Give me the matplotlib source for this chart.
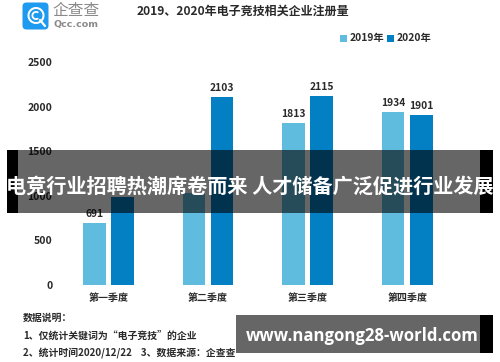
import matplotlib
matplotlib.use("Agg")
import matplotlib.pyplot as plt
from matplotlib.patches import Rectangle, FancyBboxPatch, Wedge

plt.rcParams['font.family'] = ['Noto Sans CJK SC', 'DejaVu Sans']

W, H = 500, 362
quarters = ['第一季度', '第二季度', '第三季度', '第四季度']
values_2019 = [691, 1035, 1813, 1934]
values_2020 = [983, 2103, 2115, 1901]
labels_2019 = ['691', '', '1813', '1934']
labels_2020 = ['', '2103', '2115', '1901']
y_ticks = [0, 500, 1000, 1500, 2000, 2500]
series_names = ['2019年', '2020年']
title = '2019、2020年电子竞技相关企业注册量'
notes = ['数据说明\uff1a', '1、仅统计关键词为“电子竞技”的企业', '2、统计时间2020/12/22    3、数据来源\uff1a企查查']
banner = '电竞行业招聘热潮席卷而来 人才储备广泛促进行业发展'
url = 'www.nangong28-world.com'

C19, C20 = '#5fbcdf', '#0380c3'
TXT = '#2a2a2a'

fig = plt.figure(figsize=(W / 100, H / 100), dpi=100)

# chart axes, placed in pixels: x from 58.7 to 457, y from 285 (value 0) to 62 (value 2500)
ax = fig.add_axes([58.7 / W, 1 - 285 / H, 398.3 / W, 223 / H])
ax.set_xlim(-0.5, 3.5)
ax.set_ylim(0, 2500)
ax.patch.set_alpha(0)
for s in ax.spines.values():
    s.set_visible(False)
bw, off = 0.226, 0.141
pos = list(range(len(quarters)))
ax.bar([p - off for p in pos], values_2019, bw, color=C19, clip_on=False)
ax.bar([p + off for p in pos], values_2020, bw, color=C20, clip_on=False)
for p, v, l in zip(pos, values_2019, labels_2019):
    ax.annotate(l, (p - off, v), xytext=(0, 3), textcoords='offset points', ha='center', va='bottom',
                fontsize=7.4, fontweight='bold', color=TXT)
for p, v, l in zip(pos, values_2020, labels_2020):
    ax.annotate(l, (p + off, v), xytext=(0, 3), textcoords='offset points', ha='center', va='bottom',
                fontsize=7.4, fontweight='bold', color=TXT)
ax.set_yticks(y_ticks)
ax.set_yticklabels([str(t) for t in y_ticks], fontsize=7.5, fontweight='bold', color=TXT)
ax.set_xticks(pos)
ax.set_xticklabels(quarters, fontsize=7.2, fontweight='bold', color=TXT)
ax.tick_params(axis='both', length=0)
ax.tick_params(axis='y', pad=4.5)
ax.tick_params(axis='x', pad=6)

# overlay in pixel coordinates
ov = fig.add_axes([0, 0, 1, 1], zorder=5)
ov.set_xlim(0, W)
ov.set_ylim(H, 0)
ov.axis('off')
ov.patch.set_alpha(0)

ov.text(243, 11.5, title, ha='center', va='center', fontsize=8.65, fontweight='bold', color=TXT)

# legend
ov.add_patch(Rectangle((340, 35), 6.5, 6.5, color=C19, lw=0))
ov.text(350, 38, series_names[0], ha='left', va='center', fontsize=7.4, fontweight='bold', color=TXT)
ov.add_patch(Rectangle((387, 35), 6.5, 6.5, color=C20, lw=0))
ov.text(397, 38, series_names[1], ha='left', va='center', fontsize=7.4, fontweight='bold', color=TXT)

# logo
ov.add_patch(FancyBboxPatch((25, 5), 21, 22, boxstyle='round,pad=2.5,rounding_size=4', fc='#1e9bf0', ec='none'))
ov.add_patch(Wedge((36, 15.5), 8.5, 0, 360, width=2, fc='white', ec='none'))
ov.add_patch(Wedge((36, 15.5), 4.5, 50, 310, width=1.8, fc='white', ec='none'))
ov.plot([40, 45], [20, 26], color='white', lw=1.6, solid_capstyle='round')
ov.text(76.5, 10, '企查查', ha='center', va='center', fontsize=11.3, color='#8a8a8a')
ov.text(76.5, 25, 'Qcc.com', ha='center', va='center', fontsize=6.8, color='#8a8a8a', fontweight='bold',
        family='DejaVu Sans')

# notes
for y, n in zip([318, 336, 353], notes):
    ov.text(23, y, n, ha='left', va='center', fontsize=7.1, fontweight='bold', color=TXT)

# banner overlays
ov.add_patch(Rectangle((7, 150), 11, 63, fc='black', ec='none'))
ov.add_patch(Rectangle((480, 150), 13, 63, fc='black', ec='none'))
ov.add_patch(Rectangle((18, 150), 462, 63, fc='black', alpha=0.6, ec='none'))
ov.text(250, 186, banner, ha='center', va='center', fontsize=14.5, fontweight='bold', color='white')

ov.add_patch(Rectangle((236, 315), 244, 38, fc='black', alpha=0.6, ec='none'))
ov.add_patch(Rectangle((480, 315), 13, 38, fc='black', ec='none'))
ov.text(479, 336, url, ha='right', va='center', fontsize=12.05, fontweight='bold', color='white',
        family='Open Sans')

fig.savefig('out.png', dpi=100, facecolor='white')
